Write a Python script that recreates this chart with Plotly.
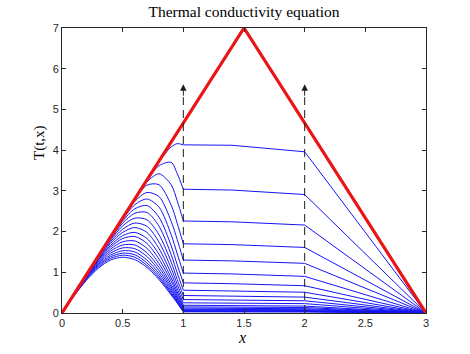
import plotly.graph_objects as go

# x positions at which every curve was read
X_GRID = [0, 0.1, 0.2, 0.3, 0.4, 0.5, 0.6, 0.7, 0.8, 0.9, 0.95, 1.0, 1.4, 2.0, 3.0]
N_LEFT = 12  # first 12 points lie in [0, 1]

# T(t, x) curves at successive times
T01 = [0, 0.467, 0.933, 1.40, 1.866, 2.333, 2.80, 3.265, 3.72, 4.08, 4.16, 4.13, 4.12, 3.96, 0]
T02 = [0, 0.467, 0.933, 1.40, 1.866, 2.333, 2.80, 3.25, 3.62, 3.70, 3.42, 3.04, 3.02, 2.91, 0]
T03 = [0, 0.467, 0.933, 1.40, 1.866, 2.333, 2.795, 3.22, 3.42, 3.15, 2.75, 2.26, 2.24, 2.16, 0]
T04 = [0, 0.467, 0.933, 1.40, 1.866, 2.33, 2.78, 3.14, 3.15, 2.65, 2.20, 1.70, 1.68, 1.61, 0]
T05 = [0, 0.467, 0.933, 1.40, 1.86, 2.32, 2.74, 2.96, 2.86, 2.25, 1.80, 1.30, 1.28, 1.22, 0]
T06 = [0, 0.467, 0.933, 1.395, 1.855, 2.30, 2.66, 2.80, 2.60, 1.92, 1.45, 0.98, 0.96, 0.90, 0]
T07 = [0, 0.467, 0.93, 1.39, 1.84, 2.26, 2.56, 2.64, 2.35, 1.65, 1.18, 0.74, 0.72, 0.67, 0]
T08 = [0, 0.467, 0.93, 1.38, 1.82, 2.21, 2.45, 2.47, 2.13, 1.43, 0.98, 0.56, 0.545, 0.51, 0]
T09 = [0, 0.466, 0.925, 1.37, 1.79, 2.14, 2.33, 2.29, 1.92, 1.25, 0.82, 0.43, 0.42, 0.39, 0]
T10 = [0, 0.466, 0.92, 1.36, 1.75, 2.06, 2.21, 2.13, 1.74, 1.10, 0.70, 0.33, 0.32, 0.30, 0]
T11 = [0, 0.465, 0.91, 1.34, 1.71, 1.98, 2.10, 1.98, 1.58, 0.97, 0.60, 0.25, 0.245, 0.23, 0]
T12 = [0, 0.463, 0.905, 1.32, 1.66, 1.90, 1.98, 1.83, 1.44, 0.86, 0.52, 0.19, 0.185, 0.17, 0]
T13 = [0, 0.46, 0.90, 1.30, 1.62, 1.83, 1.88, 1.71, 1.32, 0.78, 0.46, 0.15, 0.145, 0.135, 0]
T14 = [0, 0.46, 0.89, 1.27, 1.57, 1.75, 1.77, 1.59, 1.21, 0.70, 0.41, 0.12, 0.115, 0.105, 0]
T15 = [0, 0.455, 0.88, 1.25, 1.52, 1.67, 1.67, 1.48, 1.12, 0.64, 0.37, 0.09, 0.088, 0.082, 0]
T16 = [0, 0.45, 0.87, 1.22, 1.47, 1.60, 1.58, 1.39, 1.04, 0.59, 0.33, 0.07, 0.068, 0.063, 0]
T17 = [0, 0.445, 0.86, 1.19, 1.42, 1.53, 1.50, 1.30, 0.97, 0.54, 0.30, 0.055, 0.053, 0.05, 0]
T18 = [0, 0.44, 0.84, 1.16, 1.38, 1.47, 1.43, 1.23, 0.91, 0.50, 0.28, 0.045, 0.044, 0.04, 0]
T19 = [0, 0.43, 0.82, 1.13, 1.34, 1.42, 1.37, 1.17, 0.86, 0.47, 0.26, 0.035, 0.034, 0.031, 0]
T20 = [0, 0.42, 0.80, 1.10, 1.30, 1.37, 1.31, 1.12, 0.82, 0.44, 0.24, 0.03, 0.029, 0.027, 0]
CURVES = [T01, T02, T03, T04, T05, T06, T07, T08, T09, T10,
          T11, T12, T13, T14, T15, T16, T17, T18, T19, T20]

# initial condition (red triangle)
X_INIT = [0, 1.5, 3]
T_INIT = [0, 7, 0]

# dashed markers at the interfaces
X_MARK = [1, 2]
MARK_TOP = 5.3
ARROW_TIP = 5.62

X_TICKS = [0, 0.5, 1, 1.5, 2, 2.5, 3]
Y_TICKS = [0, 1, 2, 3, 4, 5, 6, 7]

W, H = 470, 354
L, R, T, B = 62, 44, 28, 41
PW, PH = W - L - R, H - T - B

fig = go.Figure()
blue = "rgb(20,20,245)"
for c in CURVES:
    fig.add_trace(go.Scatter(x=X_GRID[:N_LEFT], y=c[:N_LEFT], mode="lines",
                             line=dict(color=blue, width=1, shape="spline", smoothing=0.8),
                             hoverinfo="skip", showlegend=False))
    fig.add_trace(go.Scatter(x=X_GRID[N_LEFT - 1:], y=c[N_LEFT - 1:], mode="lines",
                             line=dict(color=blue, width=1),
                             hoverinfo="skip", showlegend=False))

fig.add_trace(go.Scatter(x=X_INIT, y=T_INIT, mode="lines",
                         line=dict(color="rgb(235,20,20)", width=3.2),
                         hoverinfo="skip", showlegend=False))

for xm in X_MARK:
    fig.add_trace(go.Scatter(x=[xm, xm], y=[0, MARK_TOP], mode="lines",
                             line=dict(color="rgb(30,30,30)", width=1, dash="8px,5px"),
                             hoverinfo="skip", showlegend=False))
    fig.add_annotation(x=xm, y=ARROW_TIP, ax=xm, ay=MARK_TOP, xref="x", yref="y",
                       axref="x", ayref="y", text="", showarrow=True,
                       arrowhead=2, arrowsize=1.3, arrowwidth=1, arrowcolor="rgb(30,30,30)")

fig.add_annotation(text="T(t,x)", xref="paper", yref="paper",
                   x=(40 - L) / PW, y=1 - (143 - T) / PH,
                   xanchor="center", yanchor="middle",
                   textangle=-90, showarrow=False,
                   font=dict(family="Liberation Serif", size=15, color="black"))
fig.add_annotation(text="<i>x</i>", xref="paper", yref="paper",
                   x=(242 - L) / PW, y=-(337 - (H - B)) / PH,
                   xanchor="center", yanchor="middle",
                   showarrow=False,
                   font=dict(family="Liberation Serif", size=16, color="black"))

axis_common = dict(showgrid=False, zeroline=False, showline=True, linecolor="rgb(40,40,40)",
                   linewidth=1, mirror="ticks", ticks="inside", ticklen=4,
                   tickcolor="rgb(40,40,40)",
                   tickfont=dict(family="Liberation Sans", size=11, color="rgb(40,40,40)"))

fig.update_layout(
    width=W, height=H,
    margin=dict(l=L, r=R, t=T, b=B),
    paper_bgcolor="white", plot_bgcolor="white",
    title=dict(text="Thermal conductivity equation", x=(L + PW / 2) / W, xanchor="center",
               y=1 - 12 / H, yanchor="middle", yref="container",
               font=dict(family="Liberation Serif", size=15.5, color="black")),
    xaxis=dict(range=[0, 3], tickvals=X_TICKS, ticktext=[f"{v:g}" for v in X_TICKS], **axis_common),
    yaxis=dict(range=[0, 7], tickvals=Y_TICKS, ticktext=[str(v) for v in Y_TICKS], **axis_common),
)

fig.write_html("out.html")
